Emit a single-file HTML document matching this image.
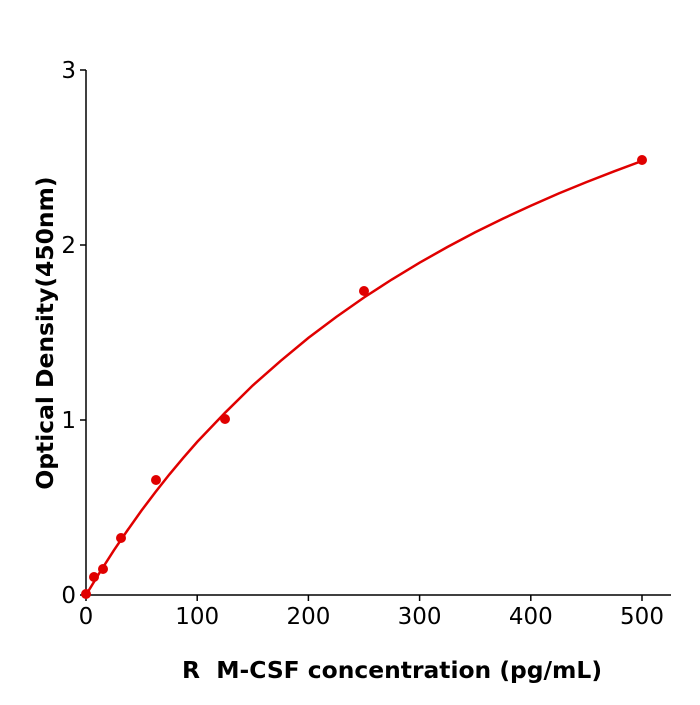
<!DOCTYPE html>
<html><head><meta charset="utf-8"><style>body{margin:0;background:#fff}</style></head>
<body>
<svg width="700" height="700" xmlns="http://www.w3.org/2000/svg" font-family="'DejaVu Sans','Liberation Sans',sans-serif">
<rect width="700" height="700" fill="#fff"/>
<g stroke="#000" stroke-width="1.5" fill="none">
<line x1="86" y1="70" x2="86" y2="595"/>
<line x1="86" y1="595" x2="671" y2="595"/>
<line x1="80" y1="70" x2="86" y2="70"/>
<line x1="80" y1="245" x2="86" y2="245"/>
<line x1="80" y1="420" x2="86" y2="420"/>
<line x1="80" y1="595" x2="86" y2="595"/>
<line x1="86" y1="595" x2="86" y2="601"/>
<line x1="197.2" y1="595" x2="197.2" y2="601"/>
<line x1="308.4" y1="595" x2="308.4" y2="601"/>
<line x1="419.6" y1="595" x2="419.6" y2="601"/>
<line x1="530.8" y1="595" x2="530.8" y2="601"/>
<line x1="642" y1="595" x2="642" y2="601"/>
</g>
<g font-size="23" fill="#000" text-anchor="end">
<text x="76" y="78">3</text><text x="76" y="253">2</text><text x="76" y="428">1</text><text x="76" y="603">0</text>
</g>
<g font-size="23" fill="#000" text-anchor="middle">
<text x="86" y="624">0</text><text x="197.2" y="624">100</text><text x="308.4" y="624">200</text><text x="419.6" y="624">300</text><text x="530.8" y="624">400</text><text x="642" y="624">500</text>
</g>
<text x="392" y="678" font-size="23.4" font-weight="bold" text-anchor="middle" xml:space="preserve">R  M-CSF concentration (pg/mL)</text>
<text transform="translate(53,333) rotate(-90)" font-size="23.4" font-weight="bold" text-anchor="middle">Optical Density(450nm)</text>
<path d="M86,595 L100,572 L113.8,550.4 L127.7,530 L141.6,510.4 L155.5,492 L169.4,474.4 L183.3,457.8 L197.2,441.9 L225,412.8 L252.8,385.4 L280.6,360.9 L308.4,337.9 L336.2,317 L364,297.5 L391.8,279.5 L419.6,262.7 L447.4,247 L475.2,232.3 L503,218.6 L530.8,205.7 L558.6,193.5 L586.4,182.1 L614.2,171.3 L642,161" fill="none" stroke="#e00000" stroke-width="2.5"/>
<g fill="#e00000">
<circle cx="86" cy="594" r="5"/><circle cx="94" cy="577" r="5"/><circle cx="103" cy="569" r="5"/><circle cx="121" cy="538" r="5"/><circle cx="156" cy="480" r="5"/><circle cx="225" cy="419" r="5"/><circle cx="364" cy="291" r="5"/><circle cx="642" cy="160" r="5"/>
</g>
</svg>
</body></html>
